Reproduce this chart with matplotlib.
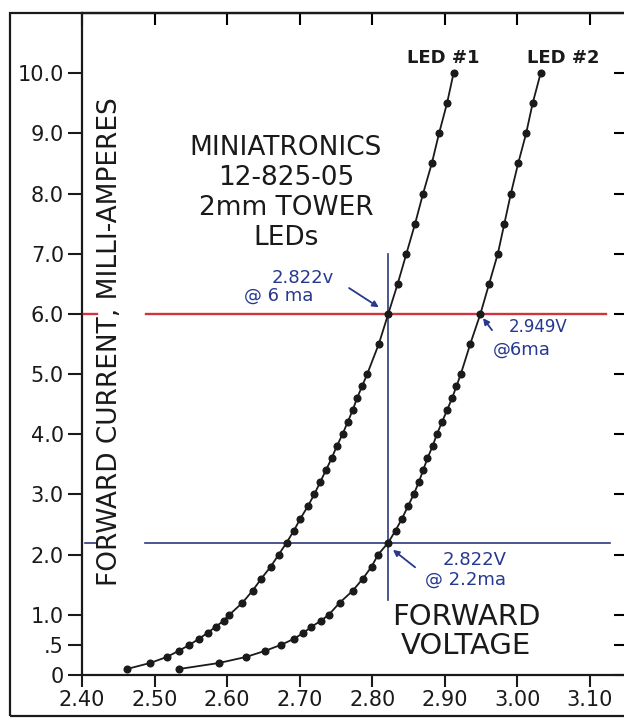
import matplotlib
matplotlib.use("Agg")
import matplotlib.pyplot as plt
from matplotlib.patches import Rectangle

# forward current (mA) at each plotted dot, same steps for both LEDs
current_ma = [0.1, 0.2, 0.3, 0.4, 0.5, 0.6, 0.7, 0.8, 0.9, 1.0,
              1.2, 1.4, 1.6, 1.8, 2.0, 2.2, 2.4, 2.6, 2.8, 3.0,
              3.2, 3.4, 3.6, 3.8, 4.0, 4.2, 4.4, 4.6, 4.8, 5.0,
              5.5, 6.0, 6.5, 7.0, 7.5, 8.0, 8.5, 9.0, 9.5, 10.0]

led1_volts = [2.462, 2.494, 2.517, 2.533, 2.548, 2.561, 2.573, 2.584, 2.595, 2.603,
              2.621, 2.635, 2.647, 2.660, 2.671, 2.682, 2.692, 2.701, 2.711, 2.720,
              2.728, 2.736, 2.744, 2.751, 2.759, 2.766, 2.773, 2.779, 2.786, 2.793,
              2.809, 2.822, 2.835, 2.847, 2.859, 2.870, 2.882, 2.892, 2.903, 2.912]

led2_volts = [2.534, 2.589, 2.626, 2.652, 2.674, 2.692, 2.705, 2.716, 2.729, 2.740,
              2.755, 2.773, 2.787, 2.799, 2.808, 2.822, 2.832, 2.841, 2.849, 2.857,
              2.864, 2.870, 2.876, 2.883, 2.889, 2.896, 2.903, 2.910, 2.916, 2.922,
              2.935, 2.949, 2.961, 2.973, 2.982, 2.991, 3.001, 3.012, 3.021, 3.032]

x_ticks = [2.40, 2.50, 2.60, 2.70, 2.80, 2.90, 3.00, 3.10]
x_tick_labels = ["2.40", "2.50", "2.60", "2.70", "2.80", "2.90", "3.00", "3.10"]
y_ticks = [0, 0.5, 1, 2, 3, 4, 5, 6, 7, 8, 9, 10]
y_tick_labels = ["0", ".5", "1.0", "2.0", "3.0", "4.0", "5.0", "6.0", "7.0", "8.0", "9.0", "10.0"]

title_lines = ["MINIATRONICS", "12-825-05", "2mm TOWER", "LEDs"]

# hand-drawn reference lines
red_level_ma = 6.0
red_spans = [(2.403, 2.420), (2.488, 3.122)]
blue_level_ma = 2.2
blue_spans = [(2.404, 2.421), (2.487, 3.128)]
blue_vline_volts = 2.822
blue_vline_range = (1.24, 7.0)

INK = "#1a1a1a"
RED = "#d0343f"
NAVY = "#2c3a7c"
PEN = "#27388f"

fig = plt.figure(figsize=(6.24, 7.19), dpi=100)
# right spine sits just past the sheet edge, as in the scan
ax = fig.add_axes([82 / 624, 44 / 719, 550 / 624, 662 / 719])

# outer frame of the scanned sheet
fig.add_artist(Rectangle((10 / 624, 3 / 719), 0.99, 703 / 719, transform=fig.transFigure,
                         fill=False, edgecolor=INK, linewidth=1.6))

ax.plot(led1_volts, current_ma, color=INK, linewidth=1.3, marker="o", markersize=4.8, zorder=4)
ax.plot(led2_volts, current_ma, color=INK, linewidth=1.3, marker="o", markersize=4.8, zorder=4)

for x0, x1 in red_spans:
    ax.plot([x0, x1], [red_level_ma, red_level_ma], color=RED, linewidth=1.7, zorder=3)
for x0, x1 in blue_spans:
    ax.plot([x0, x1], [blue_level_ma, blue_level_ma], color=NAVY, linewidth=1.2, zorder=3)
ax.plot([blue_vline_volts, blue_vline_volts], blue_vline_range, color=NAVY, linewidth=1.2, zorder=3)

ax.set_xlim(2.40, 2.40 + 550 / 725.7)
ax.set_ylim(0, 11.0)
ax.set_xticks(x_ticks)
ax.set_xticklabels(x_tick_labels)
ax.set_yticks(y_ticks)
ax.set_yticklabels(y_tick_labels)
ax.tick_params(axis="x", direction="out", length=8.5, width=1.5, labelsize=15, pad=2, colors=INK)
ax.tick_params(axis="y", direction="out", length=10, width=1.5, labelsize=15, pad=3, colors=INK)
for spine in ax.spines.values():
    spine.set_linewidth(1.6)
    spine.set_color(INK)

top = ax.secondary_xaxis("top")
top.set_xticks(x_ticks)
top.tick_params(direction="in", length=8.5, width=1.5, labeltop=False)
right = ax.secondary_yaxis("right")
right.set_yticks(y_ticks)
right.tick_params(direction="in", length=13, width=1.5, labelright=False)

ax.text(0.0515, 0.503, "FORWARD CURRENT, MILLI-AMPERES", transform=ax.transAxes,
        rotation=90, ha="center", va="center", fontsize=19, color=INK)

for i, line in enumerate(title_lines):
    ax.text(0.371, 0.796 - i * 0.0455, line, transform=ax.transAxes,
            ha="center", va="center", fontsize=19, color=INK)

ax.text(2.898, 10.25, "LED #1", ha="center", va="center",
        fontsize=13, fontweight="bold", color=INK)
ax.text(3.063, 10.25, "LED #2", ha="center", va="center",
        fontsize=13, fontweight="bold", color=INK)

ax.text(2.929, 0.96, "FORWARD", ha="center", va="center", fontsize=21, color=INK)
ax.text(2.929, 0.48, "VOLTAGE", ha="center", va="center", fontsize=21, color=INK)

# handwritten notes
arrow = dict(arrowstyle="-|>", color=PEN, linewidth=1.3, mutation_scale=9, shrinkA=0, shrinkB=0)
ax.text(2.7045, 6.59, "2.822v", ha="center", va="center", fontsize=13, color=PEN)
ax.text(2.6715, 6.30, "@ 6 ma", ha="center", va="center", fontsize=13, color=PEN)
ax.annotate("", xy=(2.809, 6.11), xytext=(2.768, 6.43), arrowprops=arrow)

ax.text(3.0284, 5.78, "2.949V", ha="center", va="center", fontsize=12, color=PEN)
ax.text(3.0063, 5.40, "@6ma", ha="center", va="center", fontsize=13, color=PEN)
ax.annotate("", xy=(2.9526, 5.93), xytext=(2.965, 5.73), arrowprops=arrow)

ax.text(2.9415, 1.91, "2.822V", ha="center", va="center", fontsize=13, color=PEN)
ax.text(2.929, 1.58, "@ 2.2ma", ha="center", va="center", fontsize=13, color=PEN)
ax.annotate("", xy=(2.8285, 2.08), xytext=(2.859, 1.79), arrowprops=arrow)

fig.savefig("out.png", dpi=100)
